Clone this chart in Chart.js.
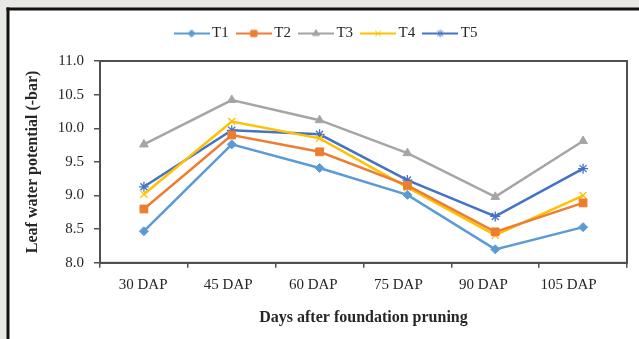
<!DOCTYPE html>
<html>
<head>
<meta charset="utf-8">
<script src="https://cdn.jsdelivr.net/npm/chart.js@4/dist/chart.umd.min.js"></script>
<style>
  html, body { margin: 0; padding: 0; background: #e9e7e3; }
  canvas { display: block; }
</style>
</head>
<body>
<canvas id="chart" width="639" height="339"></canvas>
<script>
// Leaf water potential (-bar) of five treatments over days after foundation pruning
const categories = ['30 DAP', '45 DAP', '60 DAP', '75 DAP', '90 DAP', '105 DAP'];
const seriesNames = ['T1', 'T2', 'T3', 'T4', 'T5'];
const t1 = [8.47, 9.76, 9.41, 9.01, 8.20, 8.53];
const t2 = [8.80, 9.90, 9.65, 9.15, 8.46, 8.89];
const t3 = [9.76, 10.42, 10.12, 9.63, 8.98, 9.81];
const t4 = [9.02, 10.10, 9.85, 9.12, 8.41, 9.00];
const t5 = [9.13, 9.97, 9.91, 9.23, 8.69, 9.40];
const yMin = 8.0, yMax = 11.0, yStep = 0.5;

const seriesValues = [t1, t2, t3, t4, t5];
const colors = ['#5b9bd5', '#ed7d31', '#a5a5a5', '#ffc000', '#4472c4'];
const markers = [
  { style: 'rectRot', radius: 4.5 },
  { style: 'rect', radius: 5.5 },
  { style: 'triangle', radius: 5 },
  { style: 'crossRot', radius: 5 },
  { style: 'star', radius: 5 }
];
const serif = "'Liberation Serif', 'Times New Roman', serif";
const axisColor = '#505050';
const textColor = '#262626';

// legend swatch: short line with the series marker in the middle
function swatch(i) {
  const c = document.createElement('canvas');
  c.width = 36; c.height = 14;
  const ctx = c.getContext('2d');
  ctx.strokeStyle = colors[i];
  ctx.lineWidth = 2.2;
  ctx.beginPath(); ctx.moveTo(0, 7); ctx.lineTo(36, 7); ctx.stroke();
  const m = markers[i];
  ctx.fillStyle = colors[i];
  ctx.lineWidth = 1;
  Chart.helpers.drawPoint(ctx, {
    pointStyle: m.style, radius: m.radius * 0.8, rotation: 0, borderWidth: 1
  }, 18, 7);
  return c;
}

const framePlugin = {
  id: 'frame',
  beforeLayout(chart) {
    // extra space between the legend row and the plot
    const lg = chart.legend;
    if (lg && !lg._spaced) {
      const fit = lg.fit;
      lg.fit = function () { fit.call(this); this.height += 10; };
      lg._spaced = true;
    }
  },
  afterLayout(chart) {
    const lg = chart.legend;
    if (lg) { lg.left += 10; lg.right += 10; }
  },
  beforeDraw(chart) {
    const ctx = chart.ctx;
    ctx.save();
    ctx.fillStyle = '#e9e7e3';
    ctx.fillRect(0, 0, chart.width, chart.height);
    ctx.fillStyle = '#ffffff';
    ctx.fillRect(9, 10, chart.width - 9, chart.height - 10);
    ctx.fillStyle = '#111111';
    ctx.fillRect(6.5, 7.5, 3, chart.height - 7.5);
    ctx.fillRect(6.5, 7.5, chart.width - 6.5, 3);
    ctx.restore();
  },
  beforeDatasetsDraw(chart) {
    const a = chart.chartArea, ctx = chart.ctx;
    ctx.save();
    ctx.strokeStyle = axisColor;
    ctx.lineWidth = 2;
    ctx.strokeRect(a.left, a.top, a.right - a.left, a.bottom - a.top);
    ctx.restore();
  }
};

const datasets = seriesNames.map((name, i) => ({
  label: name,
  data: seriesValues[i],
  borderColor: colors[i],
  backgroundColor: colors[i],
  borderWidth: 2.5,
  pointStyle: markers[i].style,
  pointRadius: markers[i].radius,
  pointBorderWidth: (markers[i].style === 'crossRot' || markers[i].style === 'star') ? 1.3 : 1,
  pointBorderColor: colors[i],
  pointBackgroundColor: colors[i],
  tension: 0,
  fill: false,
  xAxisID: 'x'
}));

new Chart(document.getElementById('chart'), {
  type: 'line',
  data: { labels: categories, datasets },
  plugins: [framePlugin],
  options: {
    responsive: false,
    animation: false,
    layout: { padding: { left: 9, right: 12, top: 14, bottom: 12 } },
    plugins: {
      tooltip: { enabled: false },
      legend: {
        position: 'top',
        align: 'center',
        labels: {
          usePointStyle: true,
          pointStyleWidth: 26,
          padding: 12,
          color: textColor,
          font: { family: serif, size: 15 },
          generateLabels(chart) {
            return chart.data.datasets.map((ds, i) => ({
              text: ds.label,
              pointStyle: swatch(i),
              fillStyle: colors[i],
              strokeStyle: colors[i],
              lineWidth: 0,
              hidden: false,
              datasetIndex: i,
              fontColor: textColor
            }));
          }
        }
      }
    },
    scales: {
      x: {
        type: 'category',
        position: 'bottom',
        weight: 0,
        offset: true,
        border: { display: true, color: axisColor, width: 2 },
        grid: { offset: true, drawOnChartArea: false, drawTicks: true, tickLength: 5, color: axisColor, lineWidth: 1.5 },
        ticks: { display: false }
      },
      xl: {
        type: 'linear',
        position: 'bottom',
        weight: 1,
        min: -0.507,
        max: 5.687,
        border: { display: false },
        grid: { display: false, drawTicks: false },
        ticks: {
          stepSize: 1,
          includeBounds: false,
          autoSkip: false,
          maxRotation: 0,
          padding: 8,
          color: textColor,
          font: { family: serif, size: 15 },
          callback: v => (Number.isInteger(v) && categories[v] !== undefined) ? categories[v] : ''
        },
        title: {
          display: true,
          text: 'Days after foundation pruning',
          color: textColor,
          font: { family: serif, size: 16, weight: 'bold' },
          padding: { top: 6, bottom: 0 }
        }
      },
      y: {
        min: yMin,
        max: yMax,
        border: { display: true, color: axisColor, width: 2 },
        grid: { drawOnChartArea: false, drawTicks: true, tickLength: 6, color: axisColor, lineWidth: 1.5 },
        ticks: {
          stepSize: yStep,
          padding: 10,
          color: textColor,
          font: { family: serif, size: 15 },
          callback: v => Number(v).toFixed(1)
        },
        title: {
          display: true,
          text: 'Leaf water potential (-bar)',
          color: textColor,
          font: { family: serif, size: 16, weight: 'bold' },
          padding: { top: 14, bottom: 0 }
        },
        afterFit(scale) { scale.width = 91; }
      }
    }
  }
});
</script>
</body>
</html>
